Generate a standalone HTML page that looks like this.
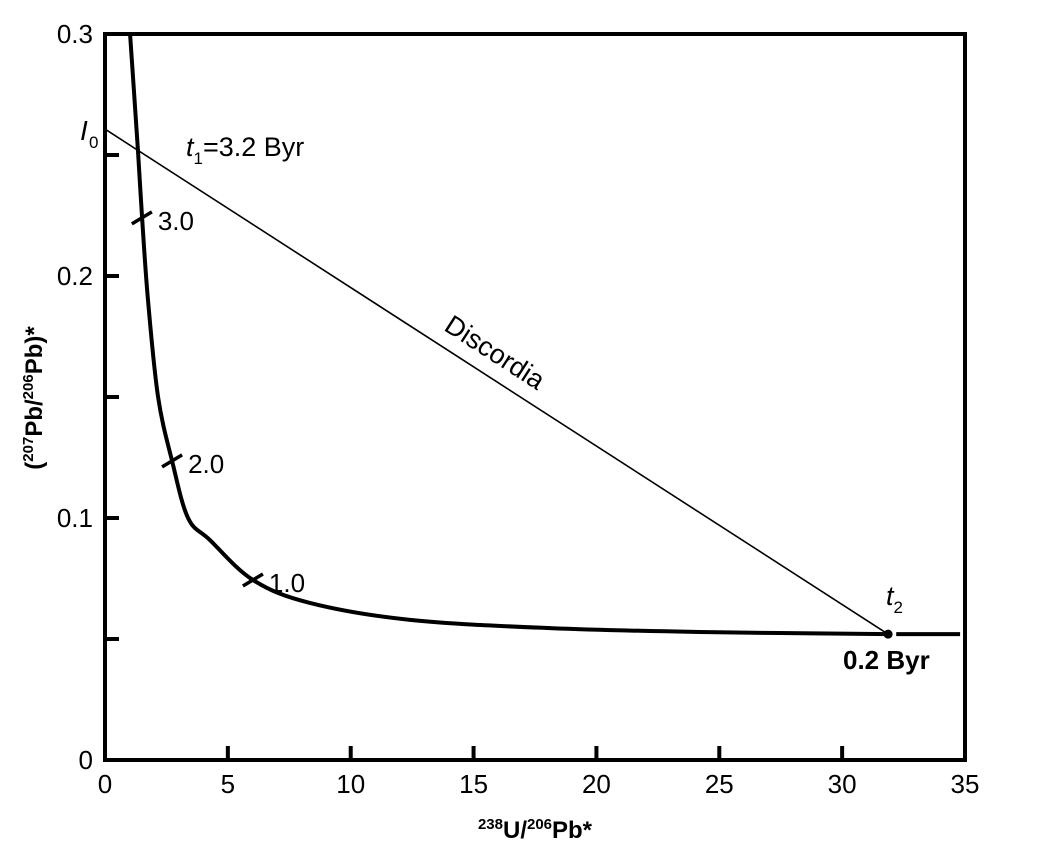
<!DOCTYPE html>
<html><head><meta charset="utf-8"><style>
body{margin:0;background:#fff}
svg text{font-family:"Liberation Sans",Arial,sans-serif;fill:#000}
</style></head><body>
<svg width="1046" height="858" viewBox="0 0 1046 858">
<g id="g"></g>
<text x="80" y="140" font-size="28" font-style="italic">I</text>
<text x="89" y="148" font-size="17">0</text>
<text x="186" y="156" font-size="27"><tspan font-style="italic">t</tspan><tspan font-size="17" dy="8">1</tspan><tspan dy="-8">=3.2 Byr</tspan></text>
<text x="886" y="605" font-size="27"><tspan font-style="italic">t</tspan><tspan font-size="17" dy="8">2</tspan></text>
<text x="843" y="669" font-size="26" font-weight="bold">0.2 Byr</text>
<text x="490" y="360" font-size="27" text-anchor="middle" transform="rotate(32.8 490 360)">Discordia</text>
<text x="535" y="838" font-size="24" font-weight="bold" text-anchor="middle"><tspan font-size="15" dy="-9">238</tspan><tspan dy="9">U/</tspan><tspan font-size="15" dy="-9">206</tspan><tspan dy="9">Pb*</tspan></text>
<text x="0" y="0" font-size="24" font-weight="bold" text-anchor="middle" transform="translate(42 398) rotate(-90)">(<tspan font-size="15" dy="-9">207</tspan><tspan dy="9">Pb/</tspan><tspan font-size="15" dy="-9">206</tspan><tspan dy="9">Pb)*</tspan></text>
</svg>
<script>
const xTicks=[0,5,10,15,20,25,30,35];
const yTicks=[0,0.05,0.1,0.15,0.2,0.25,0.3];
const yTickLabels=["0","","0.1","","0.2","","0.3"];
const concX=[1.02,1.34,1.51,1.75,2.16,2.73,3.38,4.27,6.02,8.34,12.41,18.11,24.2,31.87];
const concY=[0.3,0.252,0.224,0.19,0.15,0.1236,0.1,0.0909,0.0744,0.0649,0.0579,0.0545,0.0529,0.052];
const tailX=[32.2,34.8];
const tailY=[0.052,0.052];
const discX=[0,31.87];
const discY=[0.2607,0.052];
const ageTickX=[1.5,2.73,6.02];
const ageTickY=[0.224,0.1236,0.0744];
const ageLabels=["3.0","2.0","1.0"];
const X0=105,X1=965,Y0=760,Y1=34;
const sx=v=>X0+(X1-X0)*v/35, sy=v=>Y0-(Y0-Y1)*v/0.3;
const g=document.getElementById('g');const NS="http://www.w3.org/2000/svg";
function el(t,a,txt){const e=document.createElementNS(NS,t);for(const k in a)e.setAttribute(k,a[k]);if(txt!==undefined)e.textContent=txt;g.appendChild(e);return e;}
let e;
e=el('rect',{x:X0,y:Y1,width:X1-X0,height:Y0-Y1,fill:'none',stroke:'#000','stroke-width':4});


xTicks.forEach(v=>{
 if(v>0&&v<35){e=el('line',{x1:sx(v),x2:sx(v),y1:Y0,y2:Y0-14,stroke:'#000','stroke-width':4});
 
 }
 e=el('text',{x:sx(v),y:Y0+33,'font-size':26,'text-anchor':'middle'},String(v));
 
 
});
yTicks.forEach((v,i)=>{
 if(v>0&&v<0.3){e=el('line',{x1:X0,x2:X0+14,y1:sy(v),y2:sy(v),stroke:'#000','stroke-width':4});
 
 }
 if(yTickLabels[i]){e=el('text',{x:X0-12,y:sy(v)+9,'font-size':26,'text-anchor':'end'},yTickLabels[i]);
 
 }
});
e=el('line',{x1:sx(discX[0]),y1:sy(discY[0]),x2:sx(discX[1]),y2:sy(discY[1]),stroke:'#000','stroke-width':1.6});


const P=concX.map((x,i)=>[sx(x),sy(concY[i])]);
let d='M'+P[0][0]+' '+P[0][1];
for(let i=0;i<P.length-1;i++){
 const p0=P[Math.max(0,i-1)],p1=P[i],p2=P[i+1],p3=P[Math.min(P.length-1,i+2)];
 const c1=[p1[0]+(p2[0]-p0[0])/6,p1[1]+(p2[1]-p0[1])/6];
 const c2=[p2[0]-(p3[0]-p1[0])/6,p2[1]-(p3[1]-p1[1])/6];
 d+=` C${c1[0]} ${c1[1]} ${c2[0]} ${c2[1]} ${p2[0]} ${p2[1]}`;
}
e=el('path',{d:d,fill:'none',stroke:'#000','stroke-width':4,'stroke-linejoin':'round'});


e=el('line',{x1:sx(tailX[0]),y1:sy(tailY[0]),x2:sx(tailX[1]),y2:sy(tailY[1]),stroke:'#000','stroke-width':4});


e=el('circle',{cx:sx(discX[1]),cy:sy(discY[1]),r:4.5,fill:'#000'});


ageTickX.forEach((x,i)=>{
 const cx=sx(x),cy=sy(ageTickY[i]);
 e=el('line',{x1:cx-10,y1:cy+6,x2:cx+10,y2:cy-6,stroke:'#000','stroke-width':3.5});
 
 
 e=el('text',{x:cx+16,y:cy+12,'font-size':26},ageLabels[i]);
 
 
});
</script>
</body></html>
